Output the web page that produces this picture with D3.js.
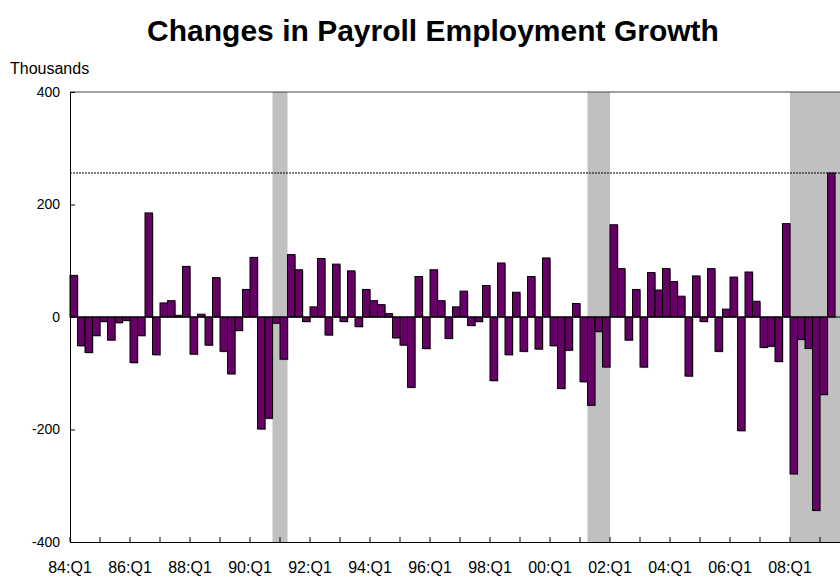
<!DOCTYPE html>
<html>
<head>
<meta charset="utf-8">
<script src="https://cdn.jsdelivr.net/npm/d3@7"></script>
<style>
  body { margin: 0; background: #fff; }
  text { font-family: Arial, "Liberation Sans", sans-serif; }
</style>
</head>
<body>
<div id="chart"></div>
<script>
// quarter labels 84:Q1 .. 09:Q4
var quarters = [];
for (let y = 1984; y <= 2009; y++) {
    for (let q = 1; q <= 4; q++) {
        quarters.push(String(y % 100).padStart(2, "0") + ":Q" + q);
    }
}

// change in payroll employment growth, thousands
var values = [
    74, -51, -63, -33, -8, -41, -10, -6, -81, -33, 185, -67,
    25, 29, 3, 90, -66, 5, -50, 70, -61, -101, -24, 49,
    106, -199, -180, -11, -75, 111, 84, -8, 18, 104, -32, 94,
    -8, 82, -17, 49, 29, 22, 6, -37, -50, -125, 72, -56,
    84, 29, -38, 18, 46, -15, -8, 56, -113, 96, -67, 44,
    -61, 72, -57, 105, -51, -127, -59, 24, -115, -157, -26, -89,
    164, 86, -41, 49, -89, 79, 48, 86, 63, 37, -105, 73,
    -8, 86, -61, 14, 71, -202, 80, 28, -54, -52, -79, 166,
    -279, -40, -56, -344, -138, 256
];

var recessions = [["90:Q4", "91:Q1"], ["01:Q2", "01:Q4"], ["08:Q1", "09:Q4"]];
var refLine = 256;
var yTicks = [-400, -200, 0, 200, 400];
var xLabelEvery = 8;
var xTickEvery = 4;

var margin = {top: 92, right: -10, bottom: 35, left: 70},
    width = 840 - margin.left - margin.right,
    height = 577 - margin.top - margin.bottom;

var svg = d3.select("#chart").append("svg")
    .attr("width", 840)
    .attr("height", 577);

svg.append("text")
    .attr("x", 433)
    .attr("y", 41)
    .attr("text-anchor", "middle")
    .style("font-size", "30px")
    .style("font-weight", "bold")
    .text("Changes in Payroll Employment Growth");

svg.append("text")
    .attr("x", 10)
    .attr("y", 74)
    .style("font-size", "16px")
    .text("Thousands");

var g = svg.append("g")
    .attr("transform", "translate(" + margin.left + "," + margin.top + ")");

var x = d3.scaleBand().domain(quarters).range([0, width]).padding(0);
var y = d3.scaleLinear().domain([-400, 400]).range([height, 0]);

// recession shading
g.selectAll(".rec")
    .data(recessions)
    .enter().append("rect")
    .attr("x", d => x(d[0]))
    .attr("width", d => x(d[1]) + x.bandwidth() - x(d[0]))
    .attr("y", 0)
    .attr("height", height)
    .attr("fill", "#c0c0c0");

var data = values.map((v, i) => ({q: quarters[i], v: v}));

// bar shadow
g.selectAll(".shadow")
    .data(data)
    .enter().append("rect")
    .attr("x", d => x(d.q) + 1)
    .attr("y", d => Math.min(y(d.v), y(0)) + 1)
    .attr("width", x.bandwidth())
    .attr("height", d => Math.abs(y(d.v) - y(0)))
    .attr("fill", "#999");

g.selectAll(".bar")
    .data(data)
    .enter().append("rect")
    .attr("class", "bar")
    .attr("x", d => x(d.q))
    .attr("y", d => Math.min(y(d.v), y(0)))
    .attr("width", x.bandwidth())
    .attr("height", d => Math.abs(y(d.v) - y(0)))
    .attr("fill", "#660066")
    .attr("stroke", "#000")
    .attr("stroke-width", 1);

// reference line
g.append("line")
    .attr("x1", 0).attr("x2", width)
    .attr("y1", y(refLine)).attr("y2", y(refLine))
    .attr("stroke", "#000")
    .attr("stroke-width", 1)
    .attr("stroke-dasharray", "2,1");

// zero line
g.append("line")
    .attr("x1", 0).attr("x2", width)
    .attr("y1", y(0)).attr("y2", y(0))
    .attr("stroke", "#000")
    .attr("stroke-width", 1.2);

// top border
g.append("line")
    .attr("x1", 0).attr("x2", width)
    .attr("y1", 0).attr("y2", 0)
    .attr("stroke", "#444");

// y axis
var yAxis = g.append("g")
    .call(d3.axisLeft(y).tickValues(yTicks).tickSize(-5).tickPadding(10)
        .tickFormat(d => String(d)));
yAxis.select(".domain").attr("stroke", "#000");
yAxis.selectAll("text").style("font-size", "14px").attr("fill", "#000");

// x axis
var xTickVals = quarters.filter((q, i) => i % xTickEvery === 0);
var xAxis = g.append("g")
    .attr("transform", "translate(0," + height + ")")
    .call(d3.axisBottom(x).tickValues(xTickVals).tickSize(-5).tickFormat(""));
xAxis.selectAll(".tick").attr("transform", d => "translate(" + x(d) + ",0)");
xAxis.select(".domain").attr("stroke", "#000");

g.selectAll(".xlabel")
    .data(quarters.filter((q, i) => i % xLabelEvery === 0))
    .enter().append("text")
    .attr("x", d => x(d))
    .attr("y", height + 31)
    .attr("text-anchor", "middle")
    .style("font-size", "16px")
    .text(d => d);
</script>
</body>
</html>
